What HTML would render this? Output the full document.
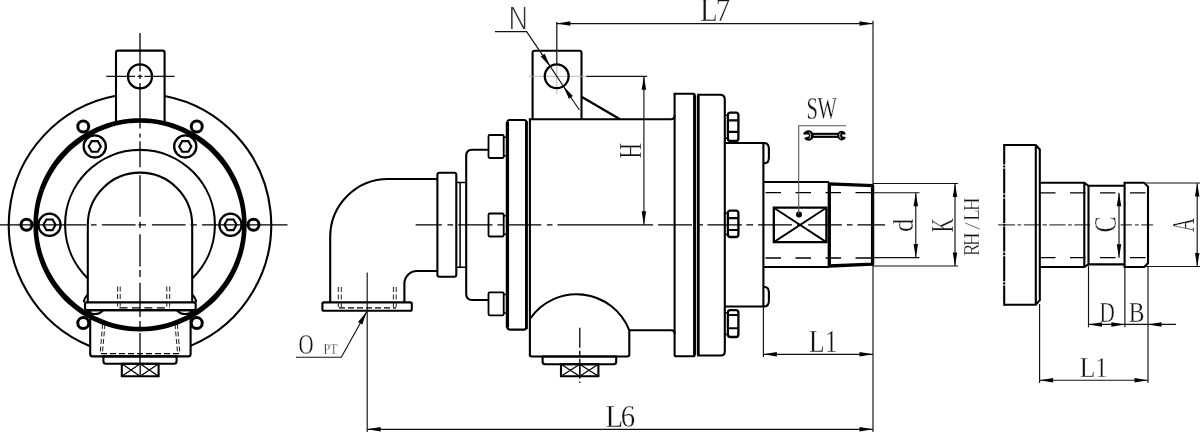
<!DOCTYPE html>
<html lang="en">
<head>
<meta charset="utf-8">
<title>Rotary joint dimension drawing</title>
<style>
html,body{margin:0;padding:0;background:#fff;}
body{width:1200px;height:438px;overflow:hidden;}
svg{display:block;width:1200px;height:438px;filter:grayscale(1);}
path,circle{fill:none;stroke:#000;stroke-linecap:butt;stroke-linejoin:miter;}
.m{stroke-width:2.1;}
.m3{stroke-width:3;}
.mx{stroke-width:1.3;}
.k{stroke-width:2.8;}
.kk{stroke-width:4.8;}
.m2{stroke-width:2.3;}
.b2{stroke-width:2.1;}
.b{stroke-width:1.5;}
.t{stroke-width:1.15;stroke:#111;}
.g{stroke-width:1.1;stroke:#555;}
.gg{stroke-width:0.8;stroke:#aaa;}
.c{stroke-width:1.3;stroke:#000;}
.h{stroke-width:1.3;stroke:#000;}
.h1{stroke-width:0.95;stroke:#111;}
.c1{stroke-width:1.1;stroke:#444;}
.k3{stroke-width:3.3;stroke-linejoin:round;}
.m2x{stroke-width:1.9;}
.wr{fill:#000;stroke:none;}
.wl{stroke:#ccc;stroke-width:1;fill:none;}
.b3{stroke-width:1.8;}
path.ring{fill:#000;stroke:none;}
.ah{fill:#000;stroke:none;}
.dot{fill:#000;stroke:none;}
.w{fill:#fff;stroke:none;}
text{font-family:"Liberation Serif",serif;fill:#111;stroke:#fff;stroke-width:0.35px;paint-order:fill stroke;}
.ts{font-family:"DejaVu Sans","Liberation Sans",sans-serif;font-weight:200;fill:#333;stroke:none;}
</style>
</head>
<body>
<svg width="1200" height="438" viewBox="0 0 1200 438">
<rect class="w" x="0" y="0" width="1200" height="438" style="fill:#fff;stroke:none"/>
<g id="front-view">
<path class="c" d="M0 224.8H86.3M91 224.8H96.5M101.9 224.8H135.6M138.5 224.8H146M151.9 224.8H185.6M190.6 224.8H196.9M201.9 224.8H287.5"/>
<path class="c" d="M140 33V71.5M140 74.5V79M140 83V128.5M140 133.5V137.5M140 141.3V167.2M140 175.2V216.7M140 221.7V228M140 234.2V266.4M140 270V277M140 282.7V317.1M140 321.1V327M140 333.1V363"/>
<path class="m" d="M164.6 95.93A131.2 131.2 0 0 1 190.6 345.85"/>
<path class="m" d="M90.2 346.18A131.2 131.2 0 0 1 116 95.81"/>
<path class="ring" fill-rule="evenodd" d="M246.65 224.8L246.51 230.38L246.08 235.95L245.36 241.49L244.36 246.98L243.08 252.42L241.51 257.78L239.67 263.06L237.56 268.23L235.17 273.29L232.52 278.22L229.62 283L226.46 287.62L223.07 292.07L219.44 296.33L215.59 300.39L211.53 304.24L207.27 307.87L202.82 311.26L198.2 314.42L193.42 317.32L188.49 319.97L183.43 322.36L178.26 324.47L172.98 326.31L167.62 327.88L162.18 329.16L156.69 330.16L151.15 330.88L145.58 331.31L140 331.45L134.42 331.31L128.85 330.88L123.31 330.16L117.82 329.16L112.38 327.88L107.02 326.31L101.74 324.47L96.57 322.36L91.51 319.97L86.58 317.32L81.8 314.42L77.18 311.26L72.73 307.87L68.47 304.24L64.41 300.39L60.56 296.33L56.93 292.07L53.54 287.62L50.38 283L47.48 278.22L44.83 273.29L42.44 268.23L40.33 263.06L38.49 257.78L36.92 252.42L35.64 246.98L34.64 241.49L33.92 235.95L33.49 230.38L33.35 224.8L33.49 219.22L33.92 213.65L34.64 208.11L35.64 202.62L36.92 197.18L38.49 191.82L40.33 186.54L42.44 181.37L44.83 176.31L47.48 171.38L50.38 166.6L53.54 161.98L56.93 157.53L60.56 153.27L64.41 149.21L68.47 145.36L72.73 141.73L77.18 138.34L81.8 135.18L86.58 132.28L91.51 129.63L96.57 127.24L101.74 125.13L107.02 123.29L112.38 121.72L117.82 120.44L123.31 119.44L128.85 118.72L134.42 118.29L140 118.15L145.58 118.29L151.15 118.72L156.69 119.44L162.18 120.44L167.62 121.72L172.98 123.29L178.26 125.13L183.43 127.24L188.49 129.63L193.42 132.28L198.2 135.18L202.82 138.34L207.27 141.73L211.53 145.36L215.59 149.21L219.44 153.27L223.07 157.53L226.46 161.98L229.62 166.6L232.52 171.38L235.17 176.31L237.56 181.37L239.67 186.54L241.51 191.82L243.08 197.18L244.36 202.62L245.36 208.11L246.08 213.65L246.51 219.22ZM242.05 224.8L241.9 230.14L241.47 235.46L240.74 240.76L239.73 246L238.44 251.18L236.87 256.28L235.04 261.28L232.95 266.18L230.61 270.97L228.02 275.62L225.2 280.13L222.16 284.49L218.9 288.69L215.43 292.72L211.77 296.57L207.92 300.23L203.89 303.7L199.69 306.96L195.33 310L190.82 312.82L186.17 315.41L181.38 317.75L176.48 319.84L171.48 321.67L166.38 323.24L161.2 324.53L155.96 325.54L150.66 326.27L145.34 326.7L140 326.85L134.66 326.7L129.34 326.27L124.04 325.54L118.8 324.53L113.62 323.24L108.52 321.67L103.52 319.84L98.62 317.75L93.83 315.41L89.18 312.82L84.67 310L80.31 306.96L76.11 303.7L72.08 300.23L68.23 296.57L64.57 292.72L61.1 288.69L57.84 284.49L54.8 280.13L51.98 275.62L49.39 270.97L47.05 266.18L44.96 261.28L43.13 256.28L41.56 251.18L40.27 246L39.26 240.76L38.53 235.46L38.1 230.14L37.95 224.8L38.1 219.46L38.53 214.14L39.26 208.84L40.27 203.6L41.56 198.42L43.13 193.32L44.96 188.32L47.05 183.42L49.39 178.63L51.98 173.98L54.8 169.47L57.84 165.11L61.1 160.91L64.57 156.88L68.23 153.03L72.08 149.37L76.11 145.9L80.31 142.64L84.67 139.6L89.18 136.78L93.83 134.19L98.62 131.85L103.52 129.76L108.52 127.93L113.62 126.36L118.8 125.07L124.04 124.06L129.34 123.33L134.66 122.9L140 122.75L145.34 122.9L150.66 123.33L155.96 124.06L161.2 125.07L166.38 126.36L171.48 127.93L176.48 129.76L181.38 131.85L186.17 134.19L190.82 136.78L195.33 139.6L199.69 142.64L203.89 145.9L207.92 149.37L211.77 153.03L215.43 156.88L218.9 160.91L222.16 165.11L225.2 169.47L228.02 173.98L230.61 178.63L232.95 183.42L235.04 188.32L236.87 193.32L238.44 198.42L239.73 203.6L240.74 208.84L241.47 214.14L241.9 219.46Z"/>
<path class="m" d="M87.8 278.51A74.9 74.9 0 1 1 192.2 278.51"/>
<path class="m" d="M87.8 302.4V224.8A52.2 52.2 0 0 1 192.2 224.8V302.4"/>
<circle class="m2" cx="230.5" cy="224.8" r="11.1"/>
<path class="b2" d="M236.6 224.8L233.55 230.08L227.45 230.08L224.4 224.8L227.45 219.52L233.55 219.52Z"/>
<circle class="m2" cx="185.25" cy="146.42" r="11.1"/>
<path class="b2" d="M191.35 146.42L188.3 151.71L182.2 151.71L179.15 146.42L182.2 141.14L188.3 141.14Z"/>
<circle class="m2" cx="94.75" cy="146.42" r="11.1"/>
<path class="b2" d="M100.85 146.42L97.8 151.71L91.7 151.71L88.65 146.42L91.7 141.14L97.8 141.14Z"/>
<circle class="m2" cx="49.5" cy="224.8" r="11.1"/>
<path class="b2" d="M55.6 224.8L52.55 230.08L46.45 230.08L43.4 224.8L46.45 219.52L52.55 219.52Z"/>
<path class="m" d="M83.88 302.4A10.9 10.9 0 0 1 87.8 294.77"/>
<path class="m" d="M86.42 310.2A10.9 10.9 0 0 0 103.08 310.2"/>
<path class="m" d="M196.12 302.4A10.9 10.9 0 0 0 192.2 294.77"/>
<path class="m" d="M176.92 310.2A10.9 10.9 0 0 0 193.58 310.2"/>
<circle class="m3" cx="253.5" cy="224.8" r="5.5"/>
<circle class="m3" cx="196.75" cy="126.51" r="5.5"/>
<circle class="m3" cx="83.25" cy="126.51" r="5.5"/>
<circle class="m3" cx="26.5" cy="224.8" r="5.5"/>
<circle class="m3" cx="83.25" cy="323.09" r="5.5"/>
<circle class="m3" cx="196.75" cy="323.09" r="5.5"/>
<path class="m" d="M116 123.4V52.6Q116 50.6 118 50.6H162.6Q164.6 50.6 164.6 52.6V123.4"/>
<circle class="m2" cx="140" cy="76.4" r="12"/>
<path class="t" d="M106.3 76.4H135.2M137.5 76.4H142.5M144.5 76.4H174.6"/>
<path class="m" d="M87 302.4L193.7 302.4Q195.7 302.4 195.7 304.4L195.7 308.1Q195.7 310.1 193.7 310.1L87 310.1Q85 310.1 85 308.1L85 304.4Q85 302.4 87 302.4Z"/>
<path class="m" d="M90.2 310.1L190.6 310.1L190.6 353.9Q190.6 356.4 188.1 356.4L92.7 356.4Q90.2 356.4 90.2 353.9L90.2 310.1Z"/>
<path class="m" d="M103.4 356.4L176.6 356.4L176.6 361.2Q176.6 363.7 174.1 363.7L105.9 363.7Q103.4 363.7 103.4 361.2L103.4 356.4Z"/>
<path class="m" d="M121.8 363.7H158.6V376.2H121.8Z"/>
<path class="mx" d="M121.8 363.7L140.2 376.2M121.8 376.2L140.2 363.7"/>
<path class="mx" d="M140.2 363.7L158.6 376.2M140.2 376.2L158.6 363.7"/>
<path class="mx" d="M140.2 363.7L140.2 376.2"/>
<path class="h1" d="M120.2 286.5V307" stroke-dasharray="5 2.5"/>
<path class="h1" d="M117.6 286.5V307" stroke-dasharray="5 2.5"/>
<path class="h1" d="M105 324L102.4 353.5" stroke-dasharray="5 2.5"/>
<path class="h1" d="M102.6 324L100.2 353.5" stroke-dasharray="5 2.5"/>
<path class="h1" d="M166.8 286.5V307" stroke-dasharray="5 2.5"/>
<path class="h1" d="M169.7 286.5V307" stroke-dasharray="5 2.5"/>
<path class="h1" d="M175 324L177.6 353.5" stroke-dasharray="5 2.5"/>
<path class="h1" d="M177.4 324L179.8 353.5" stroke-dasharray="5 2.5"/>
<path class="h" d="M119.4 307.8H170" stroke-dasharray="8 4.5"/>
<path class="h" d="M101 353.6H180" stroke-dasharray="6 3"/>
</g>
<g id="side-view">
<path class="c" d="M415.6 224.9H441.9M447.5 224.9H453.1M458.1 224.9H492.5M497.5 224.9H503.1M507.5 224.9H541.3M546.9 224.9H552.5M557.5 224.9H653.1M658.1 224.9H692M697 224.9H703M707.5 224.9H741.9M746.3 224.9H753.1M758.1 224.9H791.9M797 224.9H802M808.1 224.9H841.9M846.9 224.9H852.5M857.5 224.9H885"/>
<path class="m" d="M330.2 302.4V237A58 58 0 0 1 388.2 179H437.4"/>
<path class="m" d="M404.4 302.4V283.5A12.5 12.5 0 0 1 416.9 271H437.4"/>
<path class="m" d="M323.9 302.4L410.3 302.4Q411.8 302.4 411.8 303.9L411.8 309.2Q411.8 310.7 410.3 310.7L323.9 310.7Q322.4 310.7 322.4 309.2L322.4 303.9Q322.4 302.4 323.9 302.4Z"/>
<path class="h1" d="M338.3 287V307" stroke-dasharray="5 2.5"/>
<path class="h1" d="M341.3 287V307" stroke-dasharray="5 2.5"/>
<path class="h1" d="M393.4 287V307" stroke-dasharray="5 2.5"/>
<path class="h1" d="M396.2 287V307" stroke-dasharray="5 2.5"/>
<path class="h" d="M339 307.8H396" stroke-dasharray="6 3"/>
<path class="m" d="M439.4 172.8L454.3 172.8Q456.3 172.8 456.3 174.8L456.3 274.8Q456.3 276.8 454.3 276.8L439.4 276.8Q437.4 276.8 437.4 274.8L437.4 174.8Q437.4 172.8 439.4 172.8Z"/>
<path class="b" d="M456.3 182.4H466.2M456.3 267.3H466.2"/>
<path class="b" d="M460.1 182.4V267.3"/>
<path class="m" d="M488.5 149.7H472.2Q466.2 149.7 466.2 155.7V294Q466.2 300 472.2 300H488.5"/>
<path class="b3" d="M489.7 135L502.5 135Q503.7 135 503.7 136.2L503.7 156.8Q503.7 158 502.5 158L489.7 158Q488.5 158 488.5 156.8L488.5 136.2Q488.5 135 489.7 135Z"/>
<path class="b" d="M503.7 137.2H507M503.7 155.8H507"/>
<path class="b3" d="M489.7 213.5L502.5 213.5Q503.7 213.5 503.7 214.7L503.7 235.3Q503.7 236.5 502.5 236.5L489.7 236.5Q488.5 236.5 488.5 235.3L488.5 214.7Q488.5 213.5 489.7 213.5Z"/>
<path class="b" d="M503.7 215.7H507M503.7 234.3H507"/>
<path class="b3" d="M489.7 292.3L502.5 292.3Q503.7 292.3 503.7 293.5L503.7 314.1Q503.7 315.3 502.5 315.3L489.7 315.3Q488.5 315.3 488.5 314.1L488.5 293.5Q488.5 292.3 489.7 292.3Z"/>
<path class="b" d="M503.7 294.5H507M503.7 313.1H507"/>
<path class="m" d="M509.8 120L524 120Q526.5 120 526.5 122.5L526.5 327.1Q526.5 329.6 524 329.6L509.8 329.6Q507.3 329.6 507.3 327.1L507.3 122.5Q507.3 120 509.8 120Z"/>
<path class="k3" d="M507.4 122L507.4 327.6"/>
<path class="k" d="M526.4 121L526.4 329"/>
<path class="m" d="M529.9 356.5V119.2H671Q674.6 119.2 674.6 115.5"/>
<path class="m" d="M529.9 354V354.5Q529.9 356.5 531.9 356.5H627.3Q629.3 356.5 629.3 354.5V330.3H671Q674.8 330.3 674.8 334"/>
<path class="m" d="M529.9 319A56.5 56.5 0 0 1 629.3 330.3"/>
<path class="m" d="M542.6 356.5L616.2 356.5L616.2 361.7Q616.2 364.2 613.7 364.2L545.1 364.2Q542.6 364.2 542.6 361.7L542.6 356.5Z"/>
<path class="m" d="M561 364.2H598.4V376.2H561Z"/>
<path class="mx" d="M561 364.2L579.7 376.2M561 376.2L579.7 364.2"/>
<path class="mx" d="M579.7 364.2L598.4 376.2M579.7 376.2L598.4 364.2"/>
<path class="mx" d="M579.7 364.2L579.7 376.2"/>
<path class="c" d="M579.8 327.7V383" stroke-dasharray="20 3 5 3"/>
<path class="m" d="M532.6 119.2V52.8Q532.6 50.8 534.6 50.8H579.5Q581.5 50.8 581.5 52.8V119.2"/>
<path class="m2" d="M581.5 96.8L620 119.2"/>
<path class="gg" d="M528.7 76.3H586M556.8 22V94"/>
<circle class="m2" cx="556.7" cy="76.3" r="11.9"/>
<path class="m" d="M674.6 93.8L693.2 93.8Q694.7 93.8 694.7 95.3L694.7 354.7Q694.7 356.2 693.2 356.2L676.1 356.2Q674.6 356.2 674.6 354.7L674.6 93.8Z"/>
<path class="m" d="M698.2 94.7H720Q724.8 94.7 724.8 99.5V351.5Q724.8 355.5 720.8 355.5H698.2Z"/>
<path class="k" d="M694.5 95L694.5 355"/>
<path class="k" d="M698.2 95.5L698.2 355"/>
<path class="m2" d="M730.4 112.7L735.9 112.7Q738.4 112.7 738.4 115.2L738.4 138.4Q738.4 140.9 735.9 140.9L730.4 140.9Q727.9 140.9 727.9 138.4L727.9 115.2Q727.9 112.7 730.4 112.7Z"/>
<path class="m" d="M727.9 120.4H738.4M727.9 131.9H738.4"/>
<path class="b" d="M724.8 115.3H727.9M724.8 138.3H727.9"/>
<path class="m2" d="M730.4 210.6L735.9 210.6Q738.4 210.6 738.4 213.1L738.4 234.5Q738.4 237 735.9 237L730.4 237Q727.9 237 727.9 234.5L727.9 213.1Q727.9 210.6 730.4 210.6Z"/>
<path class="m" d="M727.9 218.1H738.4M727.9 230H738.4"/>
<path class="b" d="M724.8 213.2H727.9M724.8 234.4H727.9"/>
<path class="m2" d="M730.4 310.2L735.9 310.2Q738.4 310.2 738.4 312.7L738.4 334.5Q738.4 337 735.9 337L730.4 337Q727.9 337 727.9 334.5L727.9 312.7Q727.9 310.2 730.4 310.2Z"/>
<path class="m" d="M727.9 315H738.4M727.9 328.3H738.4"/>
<path class="b" d="M724.8 312.8H727.9M724.8 334.4H727.9"/>
<path class="m" d="M724.8 143H763.4V306.5H724.8"/>
<path class="m" d="M763.4 143H764.6Q768.9 143.4 768.9 149V157.4Q768.9 163 764.6 163.3H763.4"/>
<path class="m" d="M763.4 287H764.6Q768.9 287.3 768.9 292.6V300.6Q768.9 306.2 764.6 306.5H763.4"/>
<path class="m" d="M763.4 182H829M763.4 267H829"/>
<path class="h" d="M765.5 192.6H873M765.5 258H873" stroke-dasharray="15.5 14.5"/>
<path class="k3" d="M829.3 183.8L872.6 185.6V264.2L829.3 266Z"/>
<path class="m2" d="M773.8 207.7H826.4V242.1H773.8Z"/>
<path class="m2x" d="M773.8 207.7L826.4 242.1M773.8 242.1L826.4 207.7"/>
<circle class="dot" cx="799" cy="214.6" r="3"/>
<path class="g" d="M798.7 214V125.7H846"/>
</g>
<g id="wrench">
<path class="wr" d="M812 132.8H839V137.9H812Z"/>
<path class="wl" d="M813.5 135.35H837.5"/>
<path class="wr" d="M803 134.6L804 132.2Q806.3 129.8 809.3 130.2Q812.6 131 813.4 134V137Q812.6 140.2 809.2 140.7Q806.2 140.9 804.4 139L805 137.4L808.6 136.6Q809.6 135.4 808.4 134.4Z"/>
<path class="wl" d="M809.6 132.2Q811.6 135.4 809.8 138.8"/>
<path class="wr" d="M845.7 134.4L845.2 132.6Q843.4 130.6 840.9 130.8Q838.3 131.4 837.6 134V137.2Q838.3 140 841 140.5Q843.6 140.6 845.4 138.6L845.6 137L842.6 136.6Q841.5 135.6 842.4 134.6Z"/>
<path class="wl" d="M840.2 132.8Q838.9 135.6 840.4 138.6"/>
</g>
<g id="dims">
<path class="t" d="M495 31.6H526.6L550.2 66.4"/>
<path class="ah" d="M550.2 66.4L540.72 56.5L544.71 53.83Z"/>
<path class="t" d="M563.4 86.2L579.4 110"/>
<path class="ah" d="M563.4 86.2L572.88 96.1L568.89 98.77Z"/>
<path class="t" d="M550.2 66.4L563.4 86.2"/>
<path class="t" d="M556.8 22V64"/>
<path class="t" d="M873 20.8V432"/>
<path class="t" d="M556.8 23.6H873"/>
<path class="ah" d="M556.8 23.6L570.3 21.35L570.3 25.85Z"/>
<path class="ah" d="M873 23.6L859.5 25.85L859.5 21.35Z"/>
<path class="t" d="M586.3 76.3H647"/>
<path class="t" d="M643.9 76.3V224.8"/>
<path class="ah" d="M643.9 76.3L646.15 89.8L641.65 89.8Z"/>
<path class="ah" d="M643.9 224.8L641.65 211.3L646.15 211.3Z"/>
<path class="t" d="M763.4 306.5V357"/>
<path class="t" d="M763.4 354.3H873"/>
<path class="ah" d="M763.4 354.3L776.9 352.05L776.9 356.55Z"/>
<path class="ah" d="M873 354.3L859.5 356.55L859.5 352.05Z"/>
<path class="t" d="M367.2 272.5V432"/>
<path class="t" d="M367.2 429.3H873"/>
<path class="ah" d="M367.2 429.3L380.7 427.05L380.7 431.55Z"/>
<path class="ah" d="M873 429.3L859.5 431.55L859.5 427.05Z"/>
<path class="t" d="M296 357.2H341.3L366.8 311.5"/>
<path class="ah" d="M366.8 311.5L362.32 324.46L358.13 322.12Z"/>
<path class="t" d="M873 183.5H958M873 266H958"/>
<path class="t" d="M873 192.7H919.5M873 257.6H919.5"/>
<path class="t" d="M915.8 192.7V257.6M955 183.5V266"/>
<path class="ah" d="M915.8 192.7L918.05 206.2L913.55 206.2Z"/>
<path class="ah" d="M915.8 257.6L913.55 244.1L918.05 244.1Z"/>
<path class="ah" d="M955 183.5L957.25 197L952.75 197Z"/>
<path class="ah" d="M955 266L952.75 252.5L957.25 252.5Z"/>
</g>
<g id="rotor-view">
<path class="c1" d="M998 224.9H1015M1017.5 224.9H1021.3M1023.8 224.9H1039.6M1042.5 224.9H1046.9M1049.4 224.9H1065.6M1068 224.9H1071.9M1074.4 224.9H1090M1120.6 224.9H1131.9M1135 224.9H1138.8M1141.3 224.9H1153.1"/>
<path class="m" d="M1004.2 145H1035.8L1039.8 149.5V300.2L1035.8 304.7H1004.2"/>
<path class="m" d="M1004.2 144V164.4M1004.2 165.4V167.6M1004.2 168.6V193.5M1004.2 194.5V197.4M1004.2 198.4V223.2M1004.2 224.1V225.7M1004.2 226.6V251.4M1004.2 252.4V255.3M1004.2 256.3V281.2M1004.2 282.2V284.4M1004.2 285.4V305.75"/>
<path class="m" d="M1035.8 145V304.7"/>
<path class="m" d="M1039.8 182.8H1084.3L1088.5 185.8H1124.6M1039.8 267H1084.3L1088.5 264.4H1124.6"/>
<path class="m" d="M1084.3 182.8V267M1088.5 185.8V264.4"/>
<path class="m" d="M1124.6 182.8H1144.2L1148 186.6V263.2L1144.2 267H1124.6Z"/>
<path class="h" d="M1040 192.8H1148M1040 257.7H1148" stroke-dasharray="15.5 14.5"/>
<path class="t" d="M1119 192.8V257.7"/>
<path class="ah" d="M1119 192.8L1121.25 206.3L1116.75 206.3Z"/>
<path class="ah" d="M1119 257.7L1116.75 244.2L1121.25 244.2Z"/>
<path class="t" d="M1146 183H1200M1146 266.5H1200"/>
<path class="t" d="M1197.2 183V266.5"/>
<path class="ah" d="M1197.2 183L1199.45 196.5L1194.95 196.5Z"/>
<path class="ah" d="M1197.2 266.5L1194.95 253L1199.45 253Z"/>
<path class="t" d="M1088.5 266V327.3M1124.9 267V327.3M1148 267V383M1039.6 304V383"/>
<path class="t" d="M1088.5 324.4H1176"/>
<path class="ah" d="M1088.5 324.4L1102 322.15L1102 326.65Z"/>
<path class="ah" d="M1124.9 324.4L1111.4 326.65L1111.4 322.15Z"/>
<path class="ah" d="M1148 324.4L1161.5 322.15L1161.5 326.65Z"/>
<path class="t" d="M1039.6 380.2H1148"/>
<path class="ah" d="M1039.6 380.2L1053.1 377.95L1053.1 382.45Z"/>
<path class="ah" d="M1148 380.2L1134.5 382.45L1134.5 377.95Z"/>
</g>
<g id="labels">
<text class="ts" font-size="29.59" transform="translate(0 29) scale(1.0103 1)" x="502.42" y="0">N</text>
<text class="tx" font-size="33.21" transform="translate(0 20.65) scale(0.8711 1)" x="803.5 821.56" y="0">L7</text>
<text class="tx" font-size="30.92" transform="translate(641.15 157.9) rotate(-90) scale(0.6956 1)" x="-0.85" y="0">H</text>
<text class="tx" font-size="30.82" transform="translate(0 118.75) scale(0.6679 1)" x="1207.61 1224.06" y="0">SW</text>
<text class="tx" font-size="28.72" transform="translate(913.25 231.1) rotate(-90) scale(0.9233 1)" x="-1.01" y="0">d</text>
<text class="tx" font-size="31.83" transform="translate(952.65 231.6) rotate(-90) scale(0.6054 1)" x="-0.88" y="0">K</text>
<text class="tx" font-size="23.44" transform="translate(979.35 255.6) rotate(-90) scale(0.7971 1)" x="-0.64 11.95 32.81 43.73 55.9" y="0" rotate="0 0 9 0 0">RH/LH</text>
<text class="tx" font-size="31.22" transform="translate(1116.15 231.6) rotate(-90) scale(0.7721 1)" x="-1.25" y="0">C</text>
<text class="tx" font-size="30.68" transform="translate(1194.35 231.9) rotate(-90) scale(0.6380 1)" x="-0.31" y="0">A</text>
<text class="tx" font-size="30.46" transform="translate(0 321.55) scale(0.6967 1)" x="1578.23" y="0">D</text>
<text class="tx" font-size="30.46" transform="translate(0 321.55) scale(0.7735 1)" x="1459.28" y="0">B</text>
<text class="tx" font-size="30.46" transform="translate(0 376.95) scale(0.8405 1)" x="1284.7 1302.84" y="0">L1</text>
<text class="tx" font-size="31.07" transform="translate(0 351.55) scale(0.8240 1)" x="981.81 1000.8" y="0">L1</text>
<text class="tx" font-size="30.61" transform="translate(0 426.75) scale(0.9422 1)" x="642.53 658.81" y="0">L6</text>
<text class="tx" font-size="29.96" transform="translate(0 354.15) scale(0.6961 1)" x="428.79" y="0">O</text>
<text class="tx" font-size="13.82" transform="translate(0 354.15) scale(0.8882 1)" x="364.3 371.55" y="0">PT</text>
</g>
</svg>
</body>
</html>
